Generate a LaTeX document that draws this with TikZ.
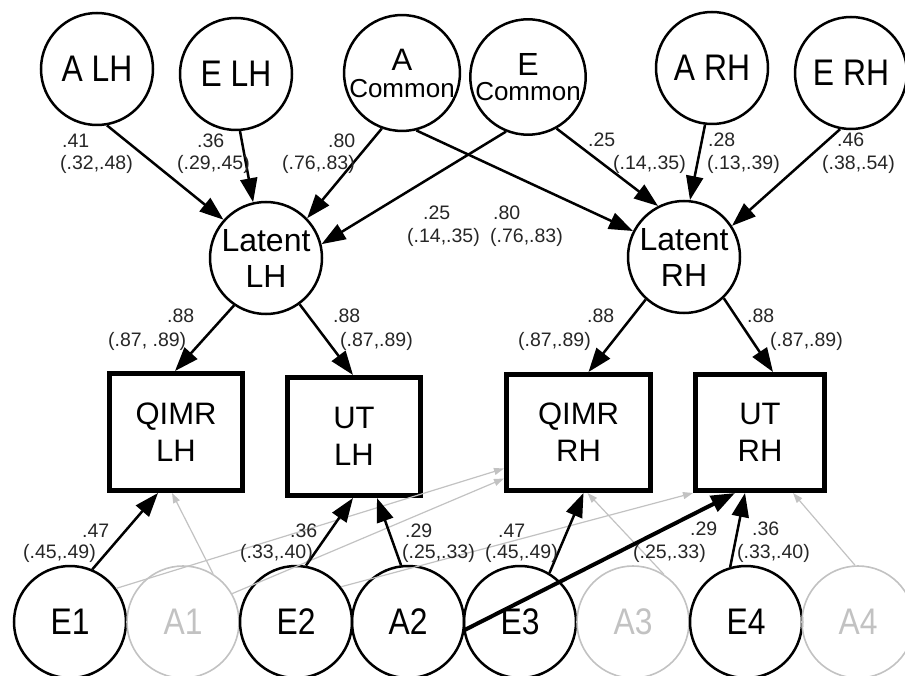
\documentclass[tikz,border=0pt]{standalone}
\usepackage{fontspec}
\setmainfont{Liberation Sans}
\newfontfamily\narrowf[FakeStretch=0.86]{Liberation Sans}
\usetikzlibrary{arrows.meta}
\definecolor{lgray}{gray}{0.76}
\begin{document}
\begin{tikzpicture}[x=1pt,y=-1pt,
  outer/.style={circle,draw,line width=2.5pt,minimum size=112pt,inner sep=0pt,font=\narrowf\fontsize{37}{40}\selectfont},
  ghost/.style={outer,draw=lgray,text=lgray,line width=1.6pt},
  latent/.style={circle,draw,line width=2.5pt,minimum size=112pt,inner sep=0pt,align=center,font=\fontsize{32}{36}\selectfont},
  common/.style={circle,draw,line width=2.5pt,minimum size=112pt,inner sep=0pt,align=center},
  obs/.style={rectangle,draw,line width=5pt,inner sep=0pt,align=center,font=\fontsize{31}{37}\selectfont},
  blk/.style={line width=2.5pt,-{Triangle[length=24pt,width=17pt]}},
  thk/.style={line width=4pt,-{Triangle[length=24pt,width=17pt]}},
  gry/.style={draw=lgray,line width=1.2pt,-{Triangle[length=10pt,width=7pt]}},
  lab/.style={inner sep=0pt,text=black!85,font=\fontsize{19.5}{22}\selectfont},
]
\useasboundingbox (0,0) rectangle (905,676);

% top latent sources
\node[outer] (aLH) at (97,69) {A LH};
\node[outer] (eLH) at (236,74) {E LH};
\node[common,font=\fontsize{26}{27}\selectfont] (aC) at (402,73) {{\fontsize{31}{27}\selectfont A}\\Common};
\node[common,font=\fontsize{26}{25}\selectfont] (eC) at (528,77) {{\fontsize{32}{25}\selectfont E}\\Common};
\node[outer] (aRH) at (712,68) {A RH};
\node[outer] (eRH) at (851,73) {E RH};

% latent hemispheres
\node[latent] (latL) at (266,258) {Latent\\LH};
\node[latent] (latR) at (684,257) {Latent\\RH};

% observed
\node[obs,minimum width=133pt,minimum height=117pt] (qL) at (176,432) {QIMR\\LH};
\node[obs,minimum width=133pt,minimum height=118pt] (uL) at (354,436.5) {UT\\LH};
\node[obs,minimum width=144pt,minimum height=116pt] (qR) at (578.5,432.5) {QIMR\\RH};
\node[obs,minimum width=129pt,minimum height=116pt] (uR) at (760,432.5) {UT\\RH};

% bottom residual sources
\node[outer] (e1) at (70,622) {E1};
\node[ghost] (a1) at (183,622) {A1};
\node[outer] (e2) at (296,622) {E2};
\node[outer] (a2) at (408,622) {A2};
\node[outer] (e3) at (520,622) {E3};
\node[ghost] (a3) at (633,622) {A3};
\node[outer] (e4) at (746,622) {E4};
\node[ghost] (a4) at (858,622) {A4};

% top paths
\draw[blk] (aLH.-80) -- (latL.138);
\draw[blk] (eLH.-86) -- (latL.103);
\draw[blk] (aC.-110) -- (latL.44);
\draw[blk] (aC.-76) -- (latR.153);
\draw[blk] (eC.-112) -- (latL.14);
\draw[blk] (eC.-61) -- (latR.117);
\draw[blk] (aRH.-97) -- (latR.84);
\draw[blk] (eRH.-101) -- (latR.33);

% loadings
\draw[blk] (latL.-124) -- ([xshift=-1pt]qL.north);
\draw[blk] (latL.-54) -- ([xshift=-1pt]uL.north);
\draw[blk] (latR.-132) -- ([xshift=10pt]qR.north);
\draw[blk] (latR.-46) -- ([xshift=13pt]uR.north);

% residual paths
\draw[gry] (e1.36) -- ([yshift=-36pt]qR.west);
\draw[gry] (a1.30) -- ([yshift=-46pt]qR.west);
\draw[gry] (e2.38) -- (uR.south west);
\draw[gry] (a1.58) -- ([xshift=-4pt]qL.south);
\draw[gry] (a3.57) -- ([xshift=9pt]qR.south);
\draw[gry] (a4.93) -- ([xshift=33pt]uR.south);
\draw[blk] (e1.67) -- ([xshift=-18pt]qL.south);
\draw[blk] (e2.80) -- ([xshift=-1pt]uL.south);
\draw[blk] (a2.97) -- ([xshift=23pt]uL.south);
\draw[blk] (e3.59) -- ([xshift=5pt]qR.south);
\draw[thk] (a2.-8) -- ([xshift=-25pt]uR.south);
\draw[blk] (e4.106) -- ([xshift=-15pt]uR.south);

% labels top
\node[lab,anchor=base west] (t1a) at (62,148) {.41};
\node[lab,anchor=base west] (t1b) at (60,170) {(.32,.48)};
\node[lab,anchor=base west] (t2a) at (197,148) {.36};
\node[lab,anchor=base west] (t2b) at (177,170) {(.29,.45)};
\node[lab,anchor=base west] (t3a) at (328,148) {.80};
\node[lab,anchor=base west] (t3b) at (282,170) {(.76,.83)};
\node[lab,anchor=base west] (t4a) at (588,147) {.25};
\node[lab,anchor=base west] (t4b) at (613,170) {(.14,.35)};
\node[lab,anchor=base west] (t5a) at (708,147) {.28};
\node[lab,anchor=base west] (t5b) at (707,170) {(.13,.39)};
\node[lab,anchor=base west] (t6a) at (837,147) {.46};
\node[lab,anchor=base west] (t6b) at (822,170) {(.38,.54)};
\node[lab,anchor=base west] (m1a) at (423,220) {.25};
\node[lab,anchor=base west] (m1b) at (407,243) {(.14,.35)};
\node[lab,anchor=base west] (m2a) at (493,220) {.80};
\node[lab,anchor=base west] (m2b) at (490,243) {(.76,.83)};

% loading labels
\node[lab,anchor=base west] (f1a) at (167,323) {.88};
\node[lab,anchor=base west] (f1b) at (108,347) {(.87, .89)};
\node[lab,anchor=base west] (f2a) at (333,323) {.88};
\node[lab,anchor=base west] (f2b) at (340,347) {(.87,.89)};
\node[lab,anchor=base west] (f3a) at (587,323) {.88};
\node[lab,anchor=base west] (f3b) at (518,347) {(.87,.89)};
\node[lab,anchor=base west] (f4a) at (747,323) {.88};
\node[lab,anchor=base west] (f4b) at (770,347) {(.87,.89)};

% residual labels
\node[lab,anchor=base west] (r1a) at (82,537) {.47};
\node[lab,anchor=base west] (r1b) at (23,558) {(.45,.49)};
\node[lab,anchor=base west] (r2a) at (290,537) {.36};
\node[lab,anchor=base west] (r2b) at (240,558) {(.33,.40)};
\node[lab,anchor=base west] (r3a) at (405,537) {.29};
\node[lab,anchor=base west] (r3b) at (402,558) {(.25,.33)};
\node[lab,anchor=base west] (r4a) at (498,537) {.47};
\node[lab,anchor=base west] (r4b) at (485,558) {(.45,.49)};
\node[lab,anchor=base west] (r5a) at (690,535) {.29};
\node[lab,anchor=base west] (r5b) at (633,558) {(.25,.33)};
\node[lab,anchor=base west] (r6a) at (752,535) {.36};
\node[lab,anchor=base west] (r6b) at (737,558) {(.33,.40)};
\end{tikzpicture}
\end{document}
